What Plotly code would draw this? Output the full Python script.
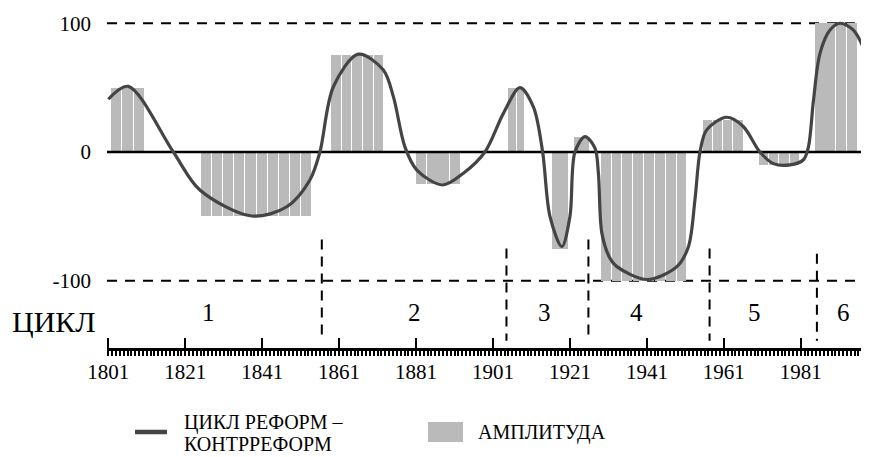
import plotly.graph_objects as go

# ---------------- data ----------------
# amplitude segments (start year, end year, value)
amp_start = [1801.5, 1825.0, 1858.8, 1880.8, 1904.7, 1916.2, 1922.0, 1928.9, 1955.5, 1970.0, 1984.5]
amp_end   = [1810.5, 1853.8, 1872.6, 1892.6, 1909.3, 1920.5, 1926.0, 1951.4, 1966.0, 1980.6, 1995.7]
amp_value = [50, -50, 75, -25, 50, -75, 12, -100, 25, -10, 100]

# reform / counter-reform cycle curve
curve_year = [1801.0, 1806.2, 1817.9, 1824.8, 1838.3, 1847.4, 1853.4, 1856.0, 1859.5, 1866.0,
              1872.5, 1875.1, 1878.1, 1881.2, 1887.9, 1893.3, 1898.9, 1903.7, 1908.0, 1911.5,
              1913.9, 1915.8, 1918.9, 1921.0, 1922.3, 1924.9, 1927.5, 1928.4, 1929.3, 1931.4,
              1933.2, 1941.0, 1948.8, 1951.8, 1953.5, 1954.8, 1956.5, 1961.7, 1966.0, 1970.4,
              1973.9, 1978.2, 1981.7, 1983.0, 1984.3, 1986.0, 1988.6, 1991.2, 1994.7, 1997.7]
curve_value = [41, 51, 0, -29.5, -49.7, -42.5, -21.7, 0, 50.7, 76,
               63.7, 43, 4, -14, -25.6, -16.5, 0, 30, 50, 35,
               0, -50, -73.5, -50, 0, 12, 3, -16.5, -63, -82.5,
               -89, -99, -89, -73.5, -37, 0, 17, 27, 20, 0,
               -9, -10, -6, 4, 40, 76.6, 94.7, 100, 94.7, 78]

# cycle boundaries and labels
cycle_bounds = [1856.5, 1904.5, 1925.8, 1957.3, 1985.2]
cycle_bound_top = [-68, -75, -68, -75, -79]
cycle_label_year = [1827, 1880.7, 1914.5, 1938.3, 1969.1, 1992]
cycle_labels = ["1", "2", "3", "4", "5", "6"]

year_ticks = [1801, 1821, 1841, 1861, 1881, 1901, 1921, 1941, 1961, 1981]
y_ticks = [-100, 0, 100]
y_tick_text = ["-100", "0", "100"]

X_RANGE = [1800.66, 1997.96]
Y_RANGE = [-152.2, 110.3]
FONT = "Liberation Serif, Tinos, Times New Roman, DejaVu Serif, serif"
BAR_STEP = 3.0

# page offset (browser body margin)
OFF = 8

# ---------------- build bars ----------------
bx, bw, by = [], [], []
for s, e, v in zip(amp_start, amp_end, amp_value):
    n = max(1, round((e - s) / BAR_STEP))
    w = (e - s) / n
    for i in range(n):
        bx.append(s + w * (i + 0.5))
        bw.append(w - 0.25)
        by.append(v)

fig = go.Figure()
fig.add_trace(go.Bar(x=bx, y=by, width=bw, marker=dict(color="#bababa", line=dict(width=0)),
                     showlegend=False, hoverinfo="skip"))
# zero line above bars
fig.add_trace(go.Scatter(x=X_RANGE, y=[0, 0], mode="lines", line=dict(color="black", width=2.5),
                         showlegend=False, hoverinfo="skip"))
fig.add_trace(go.Scatter(x=curve_year, y=curve_value, mode="lines",
                         line=dict(color="#444444", width=3.2, shape="spline", smoothing=0.9),
                         showlegend=False))

shapes = []
for yv in [100, -100]:
    shapes.append(dict(type="line", xref="paper", yref="y", x0=0, x1=1, y0=yv, y1=yv,
                       line=dict(color="black", width=2, dash="10px,8px"), layer="below"))
for xb, yt in zip(cycle_bounds, cycle_bound_top):
    shapes.append(dict(type="line", xref="x", yref="y", x0=xb, x1=xb, y0=yt, y1=-146.5,
                       line=dict(color="black", width=2, dash="10px,7px"), layer="above"))

# legend (manual) - positions in screen pixels
W, H, L, B = 759, 338, 107, 348
def px(xp):
    return (xp - L) / W
def py(yp):
    return (B - yp) / H

shapes.append(dict(type="line", xref="paper", yref="paper", x0=px(135), x1=px(167),
                   y0=py(432), y1=py(432), line=dict(color="#444444", width=4.5)))
shapes.append(dict(type="rect", xref="paper", yref="paper", x0=px(428), x1=px(463),
                   y0=py(442), y1=py(422), line=dict(width=0), fillcolor="#bababa"))

annotations = []
for xl, lab in zip(cycle_label_year, cycle_labels):
    annotations.append(dict(x=xl, y=-125, xref="x", yref="y", text=lab, showarrow=False,
                            xanchor="center", yanchor="middle",
                            font=dict(family=FONT, size=25, color="black")))
annotations.append(dict(x=px(10), y=-132, xref="paper", yref="y", xanchor="left", yanchor="middle",
                        text="ЦИКЛ", showarrow=False, font=dict(family=FONT, size=30, color="black")))
annotations.append(dict(x=px(182), y=py(423), xref="paper", yref="paper", xanchor="left",
                        yanchor="middle", text="ЦИКЛ РЕФОРМ –", showarrow=False,
                        font=dict(family=FONT, size=20, color="black")))
annotations.append(dict(x=px(182), y=py(444), xref="paper", yref="paper", xanchor="left",
                        yanchor="middle", text="КОНТРРЕФОРМ", showarrow=False,
                        font=dict(family=FONT, size=20, color="black")))
annotations.append(dict(x=px(476), y=py(432), xref="paper", yref="paper", xanchor="left",
                        yanchor="middle", text="АМПЛИТУДА", showarrow=False,
                        font=dict(family=FONT, size=20, color="black")))

fig.update_layout(
    width=869 - OFF, height=457 - OFF,
    margin=dict(l=L - OFF, r=869 - OFF - (L - OFF) - W, t=10 - OFF, b=457 - B),
    paper_bgcolor="white", plot_bgcolor="white",
    font=dict(family=FONT, color="black"),
    bargap=0,
    shapes=shapes, annotations=annotations,
    xaxis=dict(range=X_RANGE, showgrid=False, zeroline=False,
               showline=True, linecolor="black", linewidth=3,
               tickmode="array", tickvals=year_ticks,
               ticks="inside", ticklen=10, tickwidth=2, tickcolor="black",
               minor=dict(ticks="outside", dtick=1, tick0=1801, ticklen=5, tickwidth=2,
                          tickcolor="black", showgrid=False),
               tickfont=dict(family=FONT, size=21, color="black"),
               ticklabelstandoff=3),
    yaxis=dict(range=Y_RANGE, showgrid=False, zeroline=False, showline=False,
               tickmode="array", tickvals=y_ticks, ticktext=y_tick_text, ticks="",
               tickfont=dict(family=FONT, size=21, color="black"),
               ticklabelstandoff=15),
)

fig.write_html("out.html")
